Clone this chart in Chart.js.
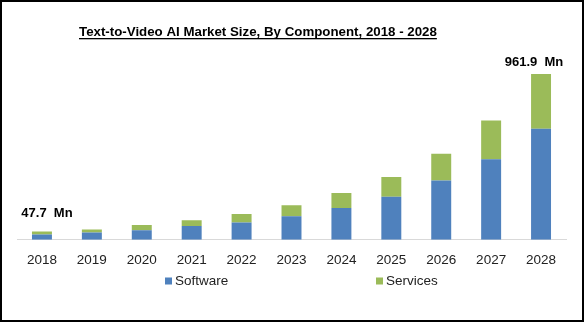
<!DOCTYPE html>
<html>
<head>
<meta charset="utf-8">
<script src="https://cdn.jsdelivr.net/npm/chart.js@4"></script>
<style>
html,body{margin:0;padding:0;background:#fff;}
#wrap{position:relative;width:584px;height:322px;}
</style>
</head>
<body>
<div id="wrap"><canvas id="c"></canvas></div>
<script>
const years = ['2018','2019','2020','2021','2022','2023','2024','2025','2026','2027','2028'];
const software = [31, 43, 55, 80, 101, 137, 184, 250, 344, 467, 645];
const services = [16.7, 17, 31, 33, 49, 64, 88, 114, 155, 225, 316.9];
const seriesNames = ['Software', 'Services'];
const titleText = 'Text-to-Video AI Market Size, By Component, 2018 - 2028';

const BLUE = '#4f81bd', GREEN = '#9bbb59';

const deco = {
  id: 'deco',
  afterDraw(chart) {
    const ctx = chart.ctx;
    ctx.save();
    ctx.strokeStyle = '#000';
    ctx.lineWidth = 2;
    ctx.strokeRect(1, 1, 582, 320);
    let size = 16;
    const fam = '"Liberation Sans Narrow", "Liberation Sans", Arial, sans-serif';
    ctx.font = 'bold ' + size + 'px ' + fam;
    let w = ctx.measureText(titleText).width;
    size = size * 358 / w;
    ctx.font = 'bold ' + size.toFixed(2) + 'px ' + fam;
    w = ctx.measureText(titleText).width;
    const tx = 79, ty = 36;
    ctx.fillStyle = '#000';
    ctx.textAlign = 'left';
    ctx.textBaseline = 'alphabetic';
    ctx.fillText(titleText, tx, ty);
    ctx.fillRect(tx, ty + 2, w, 1.3);
    const m0 = chart.getDatasetMeta(0), m1 = chart.getDatasetMeta(1);
    const n = years.length;
    ctx.font = 'bold 13px "Liberation Sans", Arial, sans-serif';
    ctx.textAlign = 'center';
    ctx.textBaseline = 'middle';
    const t0 = (software[0] + services[0]).toFixed(1) + '  Mn';
    const tN = (software[n-1] + services[n-1]).toFixed(1) + '  Mn';
    ctx.fillText(t0, m1.data[0].x + 5, m1.data[0].y - 18);
    ctx.fillText(tN, m1.data[n-1].x - 7, m1.data[n-1].y - 12);
    ctx.font = '13.5px "Liberation Sans", Arial, sans-serif';
    ctx.textAlign = 'left';
    const ly = 281;
    const items = [[seriesNames[0], BLUE, 165], [seriesNames[1], GREEN, 376]];
    items.forEach(([name, col, x]) => {
      ctx.fillStyle = col;
      ctx.fillRect(x, ly - 3.5, 7, 7);
      ctx.fillStyle = '#222';
      ctx.fillText(name, x + 10, ly);
    });
    ctx.restore();
  }
};

new Chart(document.getElementById('c'), {
  type: 'bar',
  data: {
    labels: years,
    datasets: [
      { label: seriesNames[0], data: software, backgroundColor: BLUE, barPercentage: 0.4, categoryPercentage: 1 },
      { label: seriesNames[1], data: services, backgroundColor: GREEN, barPercentage: 0.4, categoryPercentage: 1 }
    ]
  },
  options: {
    responsive: true,
    maintainAspectRatio: false,
    animation: false,
    devicePixelRatio: 1,
    layout: { padding: { left: 17, right: 18, top: 67.5, bottom: 42 } },
    plugins: { legend: { display: false }, tooltip: { enabled: false }, title: { display: false } },
    scales: {
      x: {
        stacked: true,
        grid: { display: false, drawTicks: false },
        border: { display: true, color: '#d9d9d9', width: 1 },
        ticks: { color: '#222', padding: 12, font: { family: '"Liberation Sans", Arial, sans-serif', size: 13.5 }, maxRotation: 0 }
      },
      y: {
        stacked: true,
        display: false,
        min: 0,
        max: 1000
      }
    }
  },
  plugins: [deco]
});
</script>
</body>
</html>
